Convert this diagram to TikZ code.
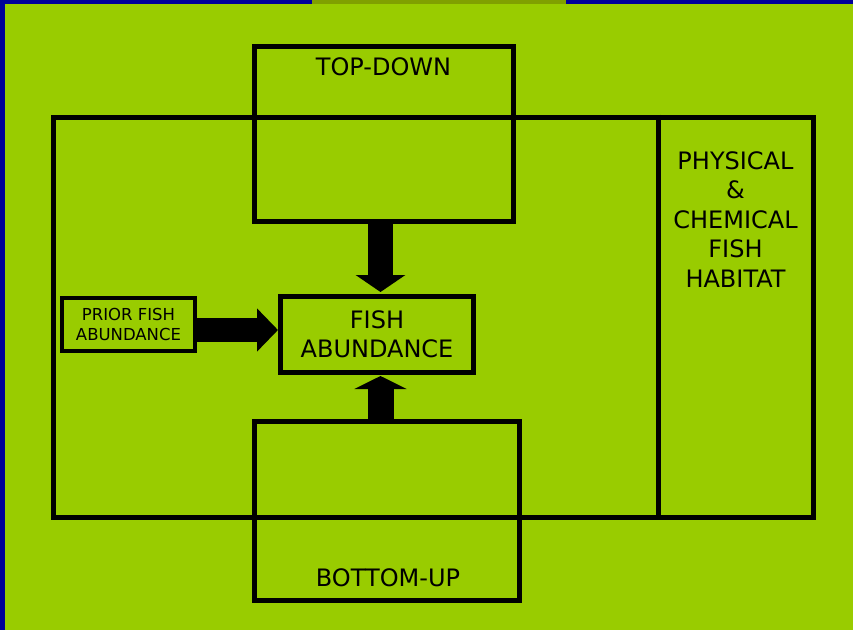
\documentclass[tikz,border=0pt]{standalone}
\usepackage{fontspec}
\setmainfont{DejaVu Sans}
\definecolor{slideGreen}{RGB}{153,204,0}
\definecolor{slideBlue}{RGB}{0,0,153}
\definecolor{slideOlive}{RGB}{128,160,0}
\usetikzlibrary{positioning,arrows.meta}
\tikzset{
  boxline/.style={draw=black, line width=5pt, inner sep=0pt},
  bigtext/.style={font=\fontsize{24}{29.5}\selectfont, align=center, inner sep=0pt},
  smalltext/.style={font=\fontsize{16.5}{20}\selectfont, align=center},
}
\begin{document}
\begin{tikzpicture}[x=1pt, y=-1pt]
    \useasboundingbox (0,0) rectangle (853,630);
    % Slide background
    \fill[slideGreen] (0,0) rectangle (853,630);
    \fill[slideBlue] (0,0) rectangle (853,4);
    \fill[slideBlue] (0,0) rectangle (5,630);
    \fill[slideOlive] (312,0) rectangle (566,4);

    % Outer frame and habitat column
    \node[boxline, minimum width=760pt, minimum height=400pt] (frame) at (433,317) {};
    \draw[line width=5pt] (frame.north -| 658,0) -- (frame.south -| 658,0);
    \node[bigtext, anchor=north] (habitat) at (735.5,151) {PHYSICAL\\\&\\CHEMICAL\\FISH\\HABITAT};

    % Top-down (top)
    \node[boxline, minimum width=259pt, minimum height=175pt] (topdown) at (383.5,133.5) {};
    \node[bigtext] (toplabel) at (383.5,67) {TOP-DOWN};

    % Bottom-up (bottom)
    \node[boxline, minimum width=265pt, minimum height=179pt] (bottomup) at (386.5,510.5) {};
    \node[bigtext] (bottomlabel) at (388,578) {BOTTOM-UP};

    % Fish abundance in the middle
    \node[boxline, bigtext, minimum width=193pt, minimum height=76pt] (fish) at (377,334.5) {FISH\\ABUNDANCE};
    \node[boxline, line width=4pt, smalltext, minimum width=133pt, minimum height=53pt] (prior) at (128.5,324.5) {PRIOR FISH\\ABUNDANCE};

    % Block arrows
    \draw[line width=24pt, -{Triangle[length=21pt,width=42pt]}] (prior.east |- 0,330) -- (fish.west |- 0,330);
    \draw[line width=25pt, -{Triangle[length=17pt,width=49pt]}] (topdown.south -| 380.5,0) -- ([yshift=2pt]fish.north -| 380.5,0);
    \draw[line width=26pt, -{Triangle[length=13pt,width=52pt]}] (bottomup.north -| 380.5,0) -- ([yshift=-1pt]fish.south -| 380.5,0);
\end{tikzpicture}
\end{document}
